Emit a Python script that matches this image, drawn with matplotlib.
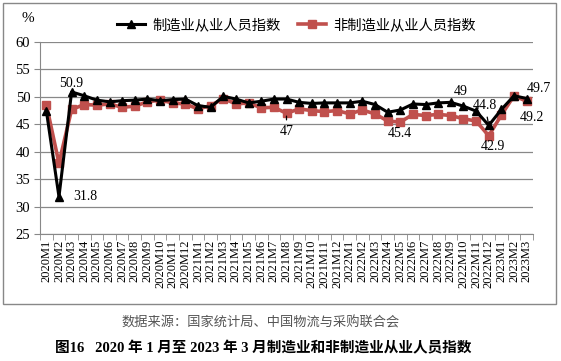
import matplotlib.pyplot as plt
from matplotlib.patches import Rectangle

plt.rcParams['font.family'] = ['Noto Sans CJK SC', 'DejaVu Sans']

months = ([f'2020M{i}' for i in range(1, 13)] + [f'2021M{i}' for i in range(1, 13)]
          + [f'2022M{i}' for i in range(1, 13)] + [f'2023M{i}' for i in range(1, 4)])

manu = [47.5, 31.8, 50.9, 50.2, 49.4, 49.1, 49.3, 49.4, 49.6, 49.3, 49.5, 49.6,
        48.4, 48.1, 50.1, 49.6, 48.9, 49.2, 49.6, 49.6, 49.0, 48.8, 48.9, 48.9,
        48.9, 49.2, 48.6, 47.2, 47.6, 48.7, 48.6, 48.9, 49.0, 48.3, 47.4, 44.8,
        47.7, 50.2, 49.7]
nonmanu = [48.6, 37.9, 47.7, 48.6, 48.5, 48.7, 48.1, 48.3, 49.1, 49.4, 48.9, 48.7,
           47.8, 48.4, 49.7, 48.7, 48.9, 48.0, 48.1, 47.0, 47.8, 47.5, 47.3, 47.5,
           46.9, 47.6, 46.9, 45.6, 45.4, 46.8, 46.6, 46.8, 46.6, 46.0, 45.6, 42.9,
           46.7, 50.2, 49.2]

red = '#C0504D'
serif = 'Liberation Serif'

fig = plt.figure(figsize=(5.61, 3.61), dpi=100)
fig.patches.append(Rectangle((3 / 561, 1 - 304 / 361), 553 / 561, 301 / 361,
                             transform=fig.transFigure, fill=False,
                             edgecolor='#888888', linewidth=1))
ax = fig.add_axes([40 / 561, 1 - 234 / 361, 493 / 561, 192 / 361])

x = list(range(len(months)))
ax.plot(x, manu, color='black', linewidth=2.2, marker='^', markersize=6,
        label='制造业从业人员指数', zorder=3)
ax.plot(x, nonmanu, color=red, linewidth=2.6, marker='s', markersize=5.5,
        label='非制造业从业人员指数', zorder=2)

ax.set_xlim(-0.5, len(months) - 0.5)
ax.set_ylim(25, 60)
ax.set_yticks(range(25, 61, 5))
ax.set_yticklabels([str(v) for v in range(25, 61, 5)], family=serif, fontsize=10.5)
ax.set_xticks(x)
ax.set_xticklabels(months, rotation=90, family=serif, fontsize=9)
ax.set_xticks([i - 0.5 for i in range(len(months) + 1)], minor=True)
ax.tick_params(axis='x', which='major', length=0, pad=4)
ax.tick_params(axis='x', which='minor', length=4, color='#888888')
ax.tick_params(axis='y', length=4, color='#888888', pad=3)
ax.grid(axis='y', color='#888888', linewidth=0.9)
ax.set_axisbelow(True)
for s in ['top', 'right']:
    ax.spines[s].set_visible(False)
for s in ['left', 'bottom']:
    ax.spines[s].set_color('#888888')

fig.text(28 / 561, 1 - 18 / 361, '%', family=serif, fontsize=11, ha='center', va='center')

ax.legend(loc='lower center', bbox_to_anchor=(0.52, 1.02), ncol=2, frameon=False,
          fontsize=10.3, handlelength=2.0, handletextpad=0.5, columnspacing=1.2,
          borderaxespad=0)

lab = dict(family=serif, fontsize=10, ha='center', va='center')
ax.text(2, 52.5, '50.9', **lab)
ax.text(3.1, 31.8, '31.8', **lab)
ax.annotate('47', xy=(19, 47.0), xytext=(19, 43.6), arrowprops=dict(arrowstyle='-', color='black', lw=0.9), **lab)
ax.text(28, 43.3, '45.4', **lab)
ax.text(32.8, 51.0, '49', **lab)
ax.annotate('44.8', xy=(35, 44.8), xytext=(34.7, 48.5), arrowprops=dict(arrowstyle='-', color='black', lw=0.9), **lab)
ax.text(35.3, 41.0, '42.9', **lab)
ax.text(39.0, 51.6, '49.7', **lab)
ax.text(38.4, 46.3, '49.2', **lab)

fig.text(261 / 561, 1 - 323 / 361, '数据来源：国家统计局、中国物流与采购联合会',
         fontsize=9.5, color='#555555', ha='center', va='center')
fig.text(263 / 561, 1 - 348 / 361, '图16   2020 年 1 月至 2023 年 3 月制造业和非制造业从业人员指数',
         family=[serif, 'Noto Sans CJK SC'], fontsize=10.5, fontweight='bold',
         ha='center', va='center')

fig.savefig('out.png', dpi=100)
